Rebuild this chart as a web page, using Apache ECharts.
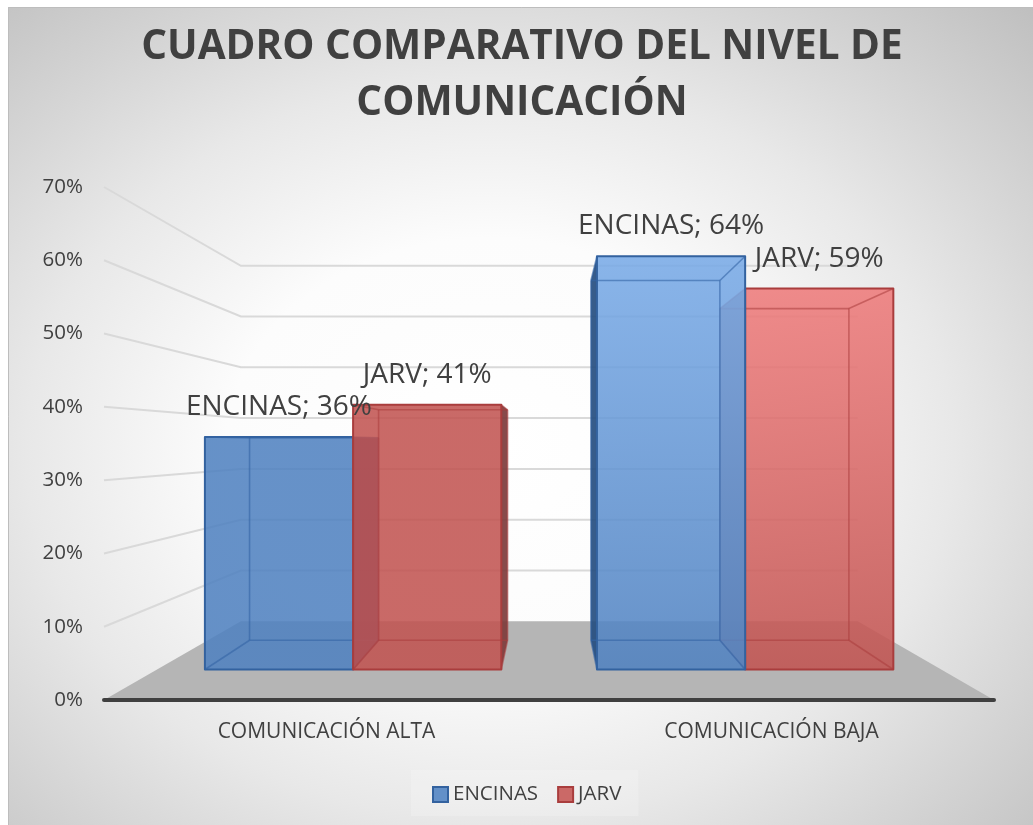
<!DOCTYPE html>
<html>
<head>
<meta charset="utf-8">
<style>html,body{margin:0;padding:0;background:#fff}#c{width:1033px;height:825px}</style>
<script src="https://cdn.jsdelivr.net/npm/echarts@6/dist/echarts.min.js"></script>
</head>
<body>
<div id="c"></div>
<script>
const titleText = 'CUADRO COMPARATIVO DEL NIVEL DE\nCOMUNICACIÓN';
const categories = ['COMUNICACIÓN ALTA', 'COMUNICACIÓN BAJA'];
const encinas = [36, 64];
const jarv = [41, 59];
const yTicks = [0, 10, 20, 30, 40, 50, 60, 70];

// perspective camera
const horizonValue = 35;
const depthFront = 0.881, depthBack = 0.767, depthWall = 0.693;
const barFraction = 0.378;
const vanishNudge = 1;

const palette = {
  ENCINAS: { base: '79,129,192', top: ['79,129,192', '120,170,231'], edge: '#33629f', inner: 'rgba(52,100,165,0.6)', side: ['40,70,130', '38,78,128'] },
  JARV: { base: '193,83,80', top: ['193,83,80', '238,122,122'], edge: '#a93d3d', inner: 'rgba(170,60,60,0.55)', side: ['125,60,60', '176,128,128'] }
};
// paint order back to front within each category
const paintOrder = [{ ENCINAS: 0, JARV: 1 }, { JARV: 2, ENCINAS: 3 }];

function camera(api) {
  const c0 = api.coord([0, 0]), c1 = api.coord([1, 0]);
  const vx = (c0[0] + c1[0]) / 2 + vanishNudge, hy = api.coord([0, horizonValue])[1];
  return { vx, hy, band: c1[0] - c0[0], p: (x, y, s) => [vx + (x - vx) * s, hy + (y - hy) * s] };
}

function makeBar(name, side) {
  return function (params, api) {
    const cat = api.value(0), val = api.value(1);
    const cam = camera(api), col = palette[name];
    const cx = api.coord([cat, 0])[0];
    const bw = cam.band * barFraction;
    const xa = side < 0 ? cx - bw : cx, xb = xa + bw;
    const y0 = api.coord([cat, 0])[1], yv = api.coord([cat, val])[1];
    const P = (x, y, s) => cam.p(x, y, s);
    const f = [P(xa, yv, depthFront), P(xb, yv, depthFront), P(xb, y0, depthFront), P(xa, y0, depthFront)];
    const b = [P(xa, yv, depthBack), P(xb, yv, depthBack), P(xb, y0, depthBack), P(xa, y0, depthBack)];
    const base = paintOrder[cat][name] * 10 + 10;
    const poly = (pts, style, k) => ({ type: 'polygon', z2: base + k, silent: true, shape: { points: pts }, style });
    const seg = (a, c, k) => ({ type: 'line', z2: base + k, silent: true, shape: { x1: a[0], y1: a[1], x2: c[0], y2: c[1] }, style: { stroke: col.inner, lineWidth: 1.6 } });
    const sideCol = 'rgb(' + col.side[cat] + ')';
    // only the side that sticks out past the bar's own front face is visible
    const outerSide = b[1][0] > f[1][0]
      ? [f[1], b[1], b[2], f[2]]
      : [f[0], b[0], b[3], f[3]];
    const children = [
      poly(outerSide, { fill: sideCol, opacity: 0.92 }, 0),
      poly(f, {
        fill: {
          type: 'linear', x: 0, y: 0, x2: 0, y2: 1,
          colorStops: [{ offset: 0, color: 'rgba(' + col.top[cat] + ',0.865)' }, { offset: 1, color: 'rgba(' + col.base + ',0.865)' }]
        },
        stroke: col.edge, lineWidth: 2, lineJoin: 'round'
      }, 1),
      seg(b[0], b[1], 2), seg(b[1], b[2], 2), seg(b[2], b[3], 2), seg(b[3], b[0], 2),
      seg(f[0], b[0], 2), seg(f[1], b[1], 2), seg(f[2], b[2], 2), seg(f[3], b[3], 2),
      {
        type: 'text', z2: 200, silent: true,
        style: {
          text: name + '; ' + val + '%', x: (f[0][0] + f[1][0]) / 2, y: f[0][1] - 30,
          align: 'center', verticalAlign: 'middle',
          font: '28px "Open Sans", sans-serif', fill: '#404040'
        }
      }
    ];
    return { type: 'group', children };
  };
}

function renderWalls(params, api) {
  const cam = camera(api);
  const tick = api.value(0);
  const left = api.coord([0, 0])[0] - cam.band / 2, right = api.coord([1, 0])[0] + cam.band / 2;
  const y = api.coord([0, tick])[1];
  const a = cam.p(left, y, 1), b = cam.p(left, y, depthWall), c = cam.p(right, y, depthWall), d = cam.p(right, y, 1);
  if (tick === 0) {
    return { type: 'polygon', silent: true, z2: 0, shape: { points: [a, b, c, d] }, style: { fill: '#b5b5b5' } };
  }
  return {
    type: 'polyline', silent: true, z2: 1, shape: { points: [a, b, c] },
    style: { stroke: '#d9d9d9', lineWidth: 2, fill: 'none' }
  };
}

const rows = arr => arr.map((v, i) => [i, v]);
const chart = echarts.init(document.getElementById('c'), null, { renderer: 'canvas' });
chart.setOption({
  animation: false,
  backgroundColor: '#ffffff',
  graphic: [
    {
      type: 'rect', z: -10, silent: true, x: 8, y: 7, scaleX: 1025 / 818, originX: 0, originY: 0,
      shape: { x: 0, y: 0, width: 818, height: 818 },
      style: {
        fill: {
          type: 'radial', x: 0.47, y: 0.54, r: 0.78,
          colorStops: [
            { offset: 0, color: '#ffffff' }, { offset: 0.33, color: '#fcfcfc' },
            { offset: 0.58, color: '#e8e8e8' }, { offset: 0.75, color: '#d6d6d6' }, { offset: 1, color: '#bcbcbc' }
          ]
        }
      }
    },
    {
      type: 'rect', z: -9, silent: true,
      shape: { x: 8.5, y: 7.5, width: 1030, height: 823 },
      style: { fill: 'none', stroke: '#bdbdbd', lineWidth: 1 }
    }
  ],
  title: {
    text: titleText, left: 517, top: 14, textAlign: 'center',
    textStyle: { fontFamily: '"Open Sans", sans-serif', fontSize: 40.5, fontWeight: 'bold', color: '#404040', lineHeight: 56 }
  },
  legend: {
    left: 411, top: 770, padding: [14, 17, 11, 21], itemGap: 19, itemWidth: 15, itemHeight: 15,
    icon: 'rect', backgroundColor: 'rgba(255,255,255,0.2)',
    data: ['ENCINAS', 'JARV'],
    textStyle: { fontFamily: '"Open Sans", sans-serif', fontSize: 20.5, color: '#404040', padding: [0, 0, 0, 0] }
  },
  grid: { left: 104, right: 39, top: 187, bottom: 125 },
  xAxis: {
    type: 'category', data: categories, z: 10,
    axisTick: { show: false },
    axisLine: { lineStyle: { color: '#404040', width: 4, cap: 'round' } },
    axisLabel: { fontFamily: '"Open Sans", sans-serif', fontSize: 21, color: '#404040', margin: 22 }
  },
  yAxis: {
    type: 'value', min: 0, max: 70, interval: 10,
    axisLine: { show: false }, axisTick: { show: false }, splitLine: { show: false },
    axisLabel: { fontFamily: '"Open Sans", sans-serif', fontSize: 20.5, color: '#404040', margin: 21, verticalAlign: 'middle', padding: [2, 0, 0, 0], formatter: '{value}%' }
  },
  series: [
    { type: 'custom', name: 'walls', clip: false, silent: true, data: yTicks.map(t => [t]), encode: { y: 0 }, renderItem: renderWalls },
    {
      type: 'custom', name: 'ENCINAS', clip: false, data: rows(encinas), encode: { x: 0, y: 1 }, renderItem: makeBar('ENCINAS', -1),
      itemStyle: { color: '#6390c8', borderColor: '#33629f', borderWidth: 2 }
    },
    {
      type: 'custom', name: 'JARV', clip: false, data: rows(jarv), encode: { x: 0, y: 1 }, renderItem: makeBar('JARV', 1),
      itemStyle: { color: '#cb6967', borderColor: '#a93d3d', borderWidth: 2 }
    }
  ]
});
</script>
</body>
</html>
